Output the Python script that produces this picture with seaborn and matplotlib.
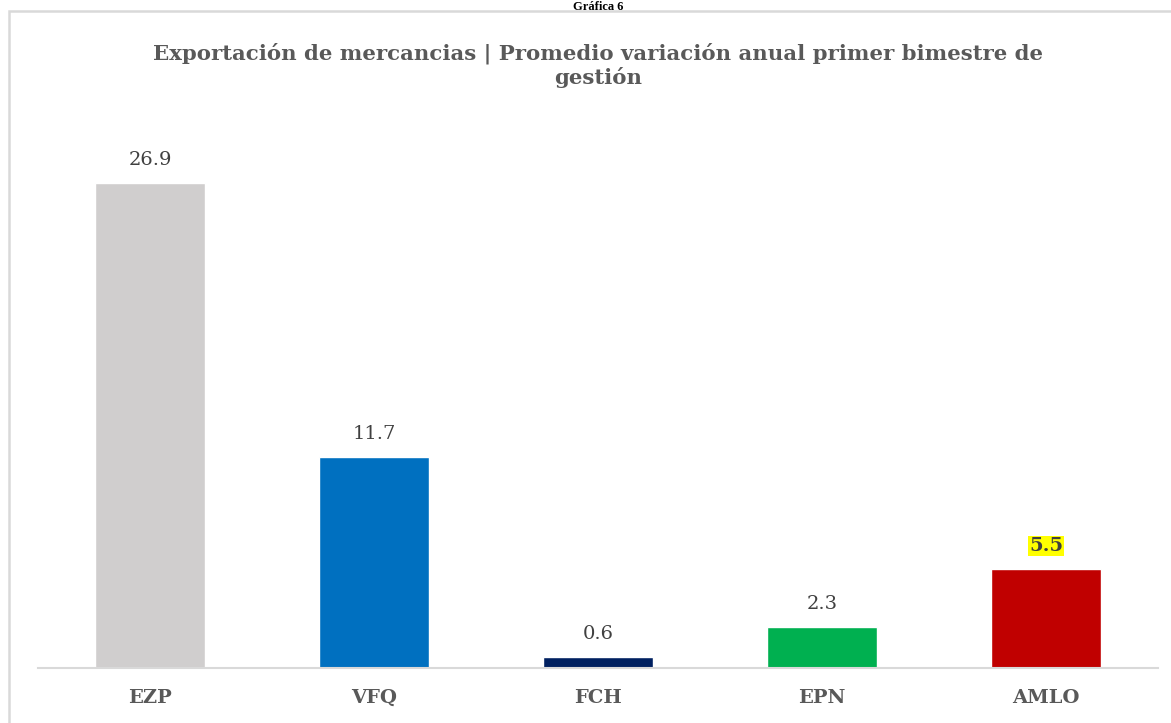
import matplotlib
matplotlib.use("Agg")
import matplotlib.pyplot as plt
import seaborn as sns
import pandas as pd
from matplotlib.patches import Rectangle

# Datos
categorias = ["EZP", "VFQ", "FCH", "EPN", "AMLO"]
valores = [26.9, 11.7, 0.6, 2.3, 5.5]
colores = ["#D0CECE", "#0070C0", "#002060", "#00B050", "#C00000"]

titulo = "Exportación de mercancias | Promedio variación anual primer bimestre de\ngestión"
encabezado = "Gráfica 6"

df = pd.DataFrame({"periodo": categorias, "valor": valores})

sns.set_style("white")
plt.rcParams["font.family"] = ["DejaVu Serif"]

W, H = 1171, 723
fig = plt.figure(figsize=(W / 100, H / 100), dpi=100)
ax = fig.add_axes([38 / W, (H - 668) / H, 1120 / W, (668 - 127) / H])

sns.barplot(
    data=df,
    x="periodo",
    y="valor",
    hue="periodo",
    palette=colores,
    width=0.49,
    legend=False,
    saturation=1,
    ax=ax
)

ax.set_ylim(0, 30)
ax.set_xlim(-0.5, 4.5)
ax.set_xlabel("")
ax.set_ylabel("")
ax.set_yticks([])
for lado in ["top", "right", "left"]:
    ax.spines[lado].set_visible(False)
ax.spines["bottom"].set_color("#D9D9D9")
ax.spines["bottom"].set_linewidth(1.5)
ax.tick_params(axis="x", length=0, pad=15)
for etiqueta in ax.get_xticklabels():
    etiqueta.set_fontweight("bold")
    etiqueta.set_color("#595959")
    etiqueta.set_fontsize(14)

# Etiquetas de valor
for i, v in enumerate(valores):
    caja = None
    if categorias[i] == "AMLO":
        caja = dict(facecolor="#FFFF00", edgecolor="none", pad=1)
    ax.annotate(
        f"{v}",
        xy=(i, v),
        xytext=(0, 10),
        textcoords="offset points",
        ha="center",
        va="bottom",
        fontsize=14,
        color="#404040",
        fontweight="bold" if categorias[i] == "AMLO" else "normal",
        bbox=caja
    )

# Título
fig.text(
    598 / W, 1 - 65 / H, titulo,
    ha="center", va="center",
    fontsize=15.3, fontweight="bold", color="#595959",
    linespacing=1.2
)

# Encabezado
fig.text(
    598 / W, 1 - 0.5 / H, encabezado,
    ha="center", va="top",
    fontsize=9, fontweight="bold", color="black",
    family=["Liberation Serif"]
)

# Marco del gráfico
marco = Rectangle(
    (9 / W, -0.1), 1.2, 1 - 11 / H + 0.1,
    transform=fig.transFigure,
    fill=False, edgecolor="#D9D9D9", linewidth=1.8
)
fig.patches.append(marco)

fig.savefig("out.png", dpi=100)
plt.close()
